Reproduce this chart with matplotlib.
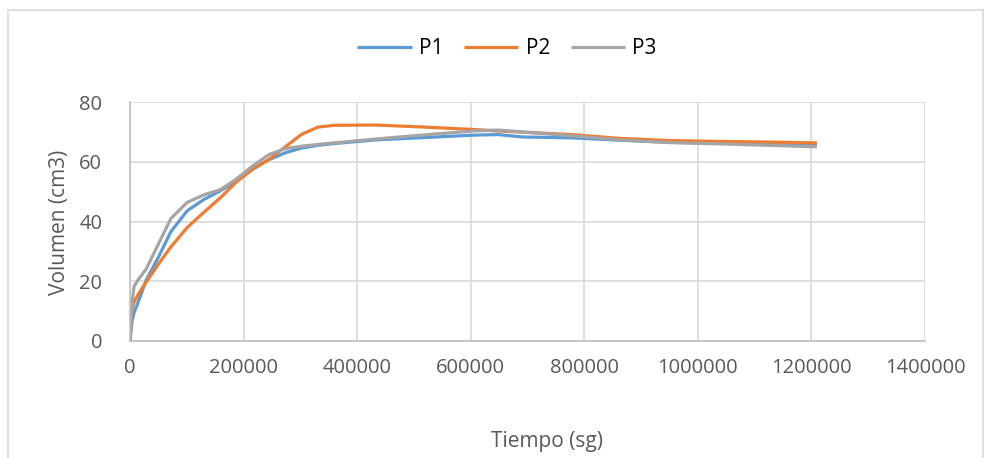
import matplotlib
matplotlib.use("Agg")
import matplotlib.pyplot as plt
from matplotlib.patches import Rectangle

# Data (time in seconds, volume in cm3)
tiempo = [0, 3600, 7200, 14400, 28800, 50400, 72000, 100800, 129600, 158400,
          187200, 216000, 244800, 273600, 302400, 331200, 360000, 432000, 518400,
          604800, 648000, 691200, 777600, 864000, 950400, 1036800, 1123200, 1209600]
p1 = [0, 6.5, 9.5, 13.0, 20.5, 28.2, 36.6, 43.6, 47.3, 50.2,
      53.5, 57.5, 60.7, 63.0, 64.6, 65.5, 66.1, 67.3, 68.1,
      68.9, 69.1, 68.3, 68.0, 67.2, 66.5, 66.2, 65.9, 65.7]
p2 = [0, 10.8, 13.0, 15.6, 19.8, 25.8, 31.5, 38.0, 43.0, 47.8,
      53.2, 57.5, 60.8, 65.0, 69.2, 71.6, 72.2, 72.3, 71.6,
      70.8, 70.3, 69.9, 69.1, 67.8, 67.1, 66.8, 66.6, 66.3]
p3 = [0, 12.8, 18.3, 20.5, 24.2, 32.6, 41.0, 46.4, 48.9, 50.6,
      54.2, 58.6, 62.4, 64.4, 65.2, 65.8, 66.3, 67.6, 69.0,
      70.3, 70.6, 70.0, 68.7, 67.3, 66.4, 66.0, 65.5, 65.0]
series_names = ["P1", "P2", "P3"]
colors = ["#5B9BD5", "#ED7D31", "#A5A5A5"]
xticks = [0, 200000, 400000, 600000, 800000, 1000000, 1200000, 1400000]
yticks = [0, 20, 40, 60, 80]

W, H = 985, 458
fig = plt.figure(figsize=(W / 100, H / 100), dpi=100)
plt.rcParams['font.family'] = ['Open Sans', 'DejaVu Sans']

# outer chart border
fig.patches.append(Rectangle((8 / W, -0.1), (983 - 8) / W, 1.1 - 10 / H,
                             transform=fig.transFigure, fill=False,
                             edgecolor="#d9d9d9", lw=1.2))

left, right, top, bottom = 130, 925, 102, 341
ax = fig.add_axes([left / W, 1 - bottom / H, (right - left) / W, (bottom - top) / H])

for y, name, c in zip([p1, p2, p3], series_names, colors):
    ax.plot(tiempo, y, color=c, lw=2.3, label=name, solid_joinstyle="round",
            solid_capstyle="butt")

ax.set_xlim(0, 1400000)
ax.set_ylim(0, 80)
ax.set_xticks(xticks)
ax.set_xticklabels([str(v) for v in xticks])
ax.set_yticks(yticks)
ax.set_yticklabels([str(v) for v in yticks])
ax.grid(True, color="#d9d9d9", lw=1.2)
ax.set_axisbelow(True)
for s in ["top", "right"]:
    ax.spines[s].set_visible(False)
for s in ["left", "bottom"]:
    ax.spines[s].set_color("#bfbfbf")
    ax.spines[s].set_linewidth(1.2)
ax.tick_params(length=0, colors="#595959", labelsize=14.5)
ax.tick_params(axis="x", pad=12)
ax.tick_params(axis="y", pad=20)

fig.text(60 / W, 1 - 222 / H, "Volumen (cm3)", rotation=90, ha="center", va="center",
         fontsize=15, color="#595959")
fig.text(547 / W, 1 - 442 / H, "Tiempo (sg)", ha="center", va="center",
         fontsize=15, color="#595959")

leg = fig.legend(loc="center", bbox_to_anchor=(507 / W, 1 - 49 / H), ncol=3,
                 frameon=False, fontsize=15, handlelength=2.6, handletextpad=0.35,
                 columnspacing=1.0, labelcolor="#000000")

fig.savefig("out.png", dpi=100)
